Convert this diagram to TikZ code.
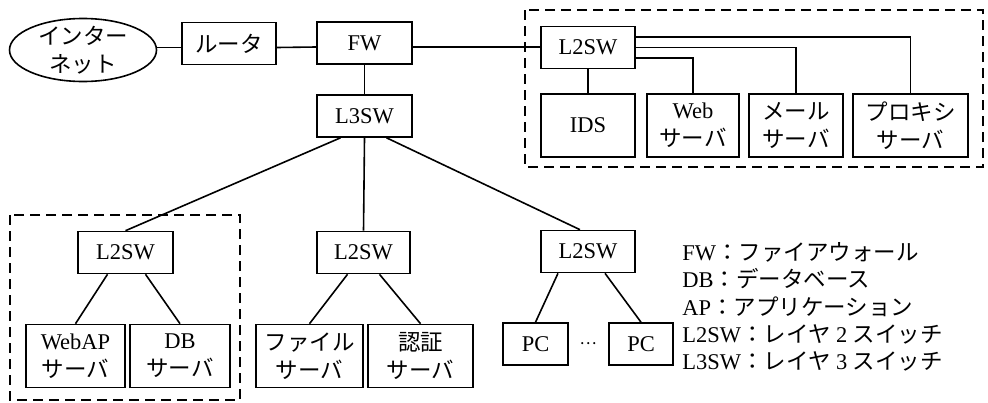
\documentclass[tikz,border=0pt]{standalone}
\usepackage{fontspec}
\setmainfont{Liberation Serif}
\newfontfamily\jpfont{Noto Sans CJK JP}
\usetikzlibrary{shapes.geometric}
\tikzset{
  box/.style={draw, line width=0.8pt, align=center, inner sep=1pt, font=\fontsize{11.25}{14}\selectfont},
  sw/.style={box, minimum width=47pt, minimum height=21pt},
  srv/.style={box, minimum height=31.5pt},
  pcbox/.style={box, minimum width=32.5pt, minimum height=21pt},
  group/.style={line width=0.8pt, dash pattern=on 5pt off 3pt},
  link/.style={line width=0.8pt},
  legend/.style={anchor=west, inner sep=0pt, font=\fontsize{11.25}{14}\selectfont}
}
\begin{document}
\begin{tikzpicture}[x=0.5pt, y=-0.5pt]
\useasboundingbox (0,0) rectangle (988,402);
\draw[group] (525,10) rectangle (983,167);
\draw[group] (10,215) rectangle (240,400);
\node[box, ellipse, minimum width=73.5pt, minimum height=31.5pt, inner xsep=0pt, inner ysep=-2.2pt] (inet) at (83,50) {{\jpfont インター}\\{\jpfont ネット}};
\node[sw] (router) at (229,43.5) {\jpfont ルータ};
\node[sw, minimum width=47.5pt] (fw) at (364.5,43) {FW};
\node[sw, minimum width=47.5pt] (l3sw) at (364.5,116) {L3SW};
\node[sw] (l2a) at (588,47.5) {L2SW};
\node[srv, minimum width=47pt] (ids) at (588,125.5) {IDS};
\node[srv, minimum width=46pt] (web) at (693,125.5) {Web\\{\jpfont サーバ}};
\node[srv, minimum width=47pt] (mail) at (796,125.5) {{\jpfont メール}\\{\jpfont サーバ}};
\node[srv, minimum width=57.5pt] (proxy) at (910.5,125.5) {{\jpfont プロキシ}\\{\jpfont サーバ}};
\node[sw, minimum width=47.5pt] (l2b) at (125.5,252.5) {L2SW};
\node[srv, minimum width=49.5pt] (webap) at (75.5,356) {WebAP\\{\jpfont サーバ}};
\node[srv, minimum width=50pt] (db) at (180,356) {DB\\{\jpfont サーバ}};
\node[sw, minimum width=46.5pt] (l2c) at (363.5,252.5) {L2SW};
\node[srv, minimum width=53.5pt] (file) at (309.5,356) {{\jpfont ファイル}\\{\jpfont サーバ}};
\node[srv, minimum width=52.5pt] (auth) at (420.5,356) {{\jpfont 認証}\\{\jpfont サーバ}};
\node[sw] (l2d) at (588,251.5) {L2SW};
\node[pcbox] (pc1) at (535.5,344) {PC};
\node[pcbox, minimum width=32pt] (pc2) at (641,344) {PC};
\node[font=\fontsize{8}{8}\selectfont\jpfont, inner sep=0pt] (dots) at (588,344) {…};
\node[legend] (leg1) at (682,252) {FW{\jpfont ：ファイアウォール}};
\node[legend] (leg2) at (682,279) {DB{\jpfont ：データベース}};
\node[legend] (leg3) at (682,306.5) {AP{\jpfont ：アプリケーション}};
\node[legend] (leg4) at (682,334) {L2SW{\jpfont ：レイヤ} 2 {\jpfont スイッチ}};
\node[legend] (leg5) at (682,361.5) {L3SW{\jpfont ：レイヤ} 3 {\jpfont スイッチ}};
\draw[link] ([yshift=-2pt]router.west) -- ([yshift=-2pt]router.west -| inet.east);
\draw[link] ([yshift=-2pt]router.east) -- ([yshift=-2pt]fw.west);
\draw[link] ([yshift=-2pt]fw.east) -- ([yshift=-2pt]fw.east -| l2a.west);
\draw[link] (fw.south) -- (l3sw.north);
\draw[link] ([xshift=-12pt]l3sw.south) -- (l2b.north);
\draw[link] (l3sw.south) -- (l2c.north);
\draw[link] ([xshift=11pt]l3sw.south) -- ([xshift=-4pt]l2d.north);
\draw[link] (l2a.south) -- (ids.north);
\draw[link] ([yshift=-5.25pt]l2a.east) -| (web.north);
\draw[link] (l2a.east) -| (mail.north);
\draw[link] ([yshift=5.25pt]l2a.east) -| (proxy.north);
\draw[link] ([xshift=-9pt]l2b.south) -- (webap.north);
\draw[link] ([xshift=10pt]l2b.south) -- (db.north);
\draw[link] ([xshift=-8pt]l2c.south) -- (file.north);
\draw[link] ([xshift=8pt]l2c.south) -- (auth.north);
\draw[link] ([xshift=-15pt]l2d.south) -- (pc1.north);
\draw[link] ([xshift=8.5pt]l2d.south) -- (pc2.north);
\end{tikzpicture}
\end{document}
